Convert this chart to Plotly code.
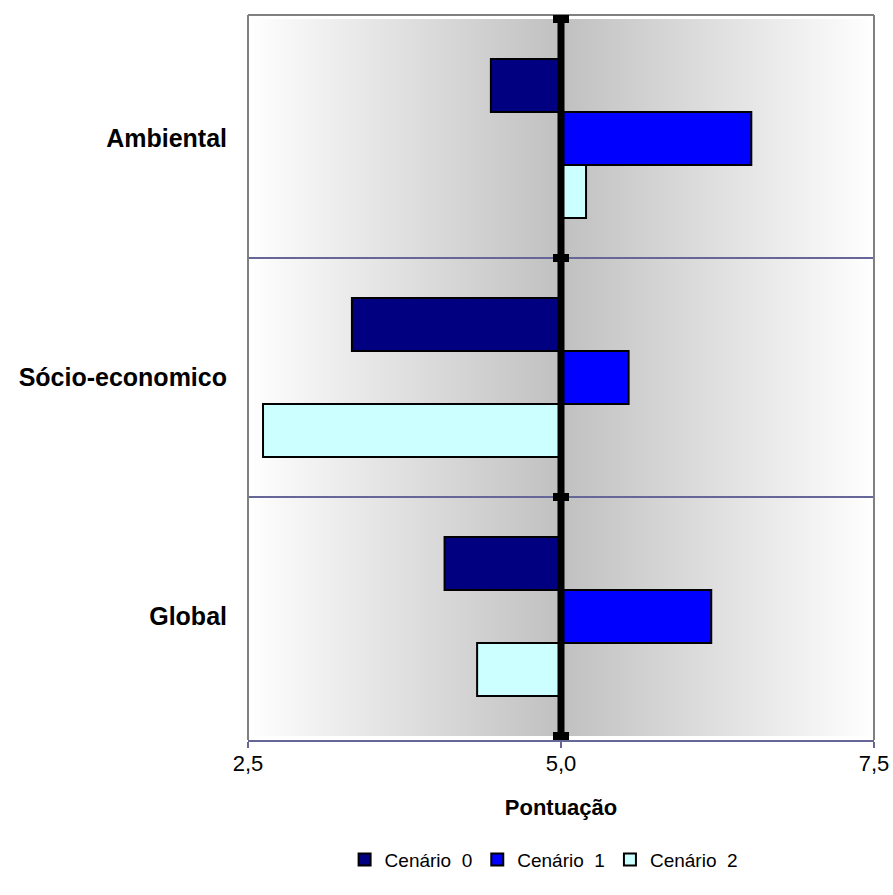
import numpy as np
import plotly.graph_objects as go

# Categories (top to bottom) and scores per scenario
categorias = ["Ambiental", "Sócio-economico", "Global"]
cenario_0 = [4.44, 3.33, 4.07]
cenario_1 = [6.52, 5.54, 6.20]
cenario_2 = [5.20, 2.62, 4.33]
nomes = ["Cenário  0", "Cenário  1", "Cenário  2"]
cores = ["#000080", "#0000FF", "#CCFFFF"]
referencia = 5.0
x_ticks = [2.5, 5.0, 7.5]
x_range = [2.5, 7.5]

FONT = "Liberation Sans, Arial, sans-serif"

fig = go.Figure()

# Grey background gradient: darkest at the reference score, white at the edges
gx = np.linspace(x_range[0], x_range[1], 251)
gz = [list(np.abs(gx - referencia)) for _ in categorias]
fig.add_trace(go.Heatmap(
    x=gx, y=categorias, z=gz,
    colorscale=[[0, "#C0C0C0"], [1, "#FFFFFF"]],
    showscale=False, hoverinfo="skip",
))

# Bars start at the reference score
for nome, cor, vals in zip(nomes, cores, [cenario_0, cenario_1, cenario_2]):
    fig.add_trace(go.Bar(
        y=categorias,
        x=[v - referencia for v in vals],
        base=referencia,
        orientation="h",
        name=nome,
        marker=dict(color=cor, line=dict(color="black", width=2)),
    ))

shapes = []
# separators between categories
for b in [0.5, 1.5]:
    shapes.append(dict(type="line", xref="paper", x0=0, x1=1, yref="y", y0=b, y1=b,
                       line=dict(color="#666699", width=2), layer="above"))
# grey frame (left, top, right)
for (x0, y0, x1, y1) in [(0, 0, 0, 1), (0, 1, 1, 1), (1, 0, 1, 1)]:
    shapes.append(dict(type="line", xref="paper", yref="paper", x0=x0, y0=y0, x1=x1, y1=y1,
                       line=dict(color="#808080", width=2), layer="above"))
# vertical axis at the reference score
shapes.append(dict(type="line", xref="x", x0=referencia, x1=referencia, yref="paper", y0=0, y1=1,
                   line=dict(color="black", width=7), layer="above"))
# cross tick marks on that axis
for b in [-0.5, 0.5, 1.5, 2.5]:
    shapes.append(dict(type="rect", xref="x", yref="y", xsizemode="pixel", ysizemode="pixel",
                       xanchor=referencia, yanchor=b, x0=-8, x1=8, y0=-4, y1=4,
                       fillcolor="black", line=dict(width=0), layer="above"))

fig.update_layout(
    width=893, height=895,
    margin=dict(l=248, r=19, t=15, b=155),
    paper_bgcolor="white", plot_bgcolor="white",
    separators=",.",
    barmode="group", bargap=0.335, bargroupgap=0,
    shapes=shapes,
    font=dict(family=FONT, color="black"),
    xaxis=dict(
        range=x_range, tickvals=x_ticks, tickformat=".1f",
        showgrid=False, zeroline=False, automargin=False, ticklabeloverflow="allow",
        showline=True, linecolor="#666699", linewidth=2,
        ticks="outside", ticklen=6, tickcolor="#666699", tickwidth=2,
        ticklabelstandoff=-3,
        tickfont=dict(size=22, family=FONT),
        title=dict(text="<b>Pontuação</b>", font=dict(size=22, family=FONT), standoff=24),
    ),
    yaxis=dict(
        categoryorder="array", categoryarray=categorias, autorange="reversed",
        showgrid=False, zeroline=False, showline=False, ticks="", automargin=False,
        tickfont=dict(size=25, family=FONT),
        ticktext=["<b>%s</b>" % c for c in categorias], tickvals=categorias,
        ticklabelstandoff=20,
    ),
    legend=dict(
        orientation="h", x=0.473, xanchor="center", y=-0.165, yanchor="middle",
        font=dict(size=19, family=FONT), traceorder="normal",
    ),
    showlegend=True,
)

fig.write_html("out.html")
